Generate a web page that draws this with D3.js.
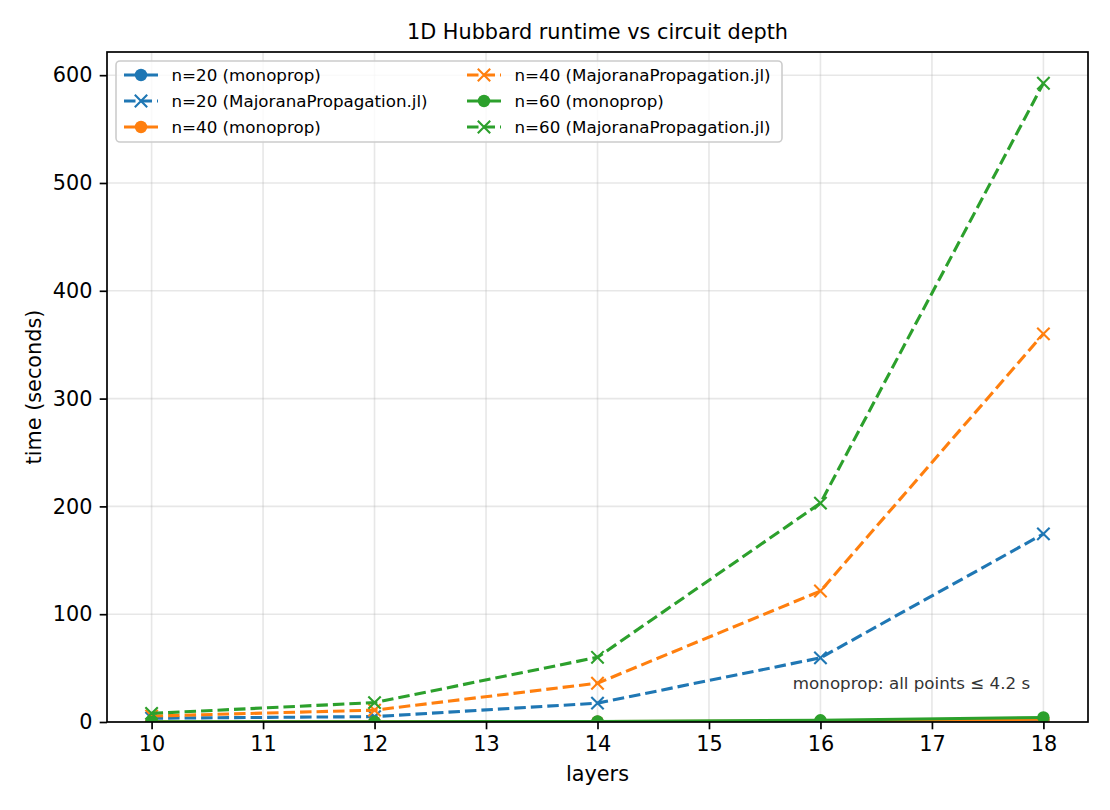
<!DOCTYPE html>
<html>
<head>
<meta charset="utf-8">
<script src="https://cdn.jsdelivr.net/npm/d3@7/dist/d3.min.js"></script>
<style>
  body { margin: 0; background: #fff; }
  svg { display: block; font-family: "DejaVu Sans", sans-serif; }
</style>
</head>
<body>
<svg id="chart" width="1110" height="810"></svg>
<script>
// ---- data ----
const layers = [10, 12, 14, 16, 18];
const monoN20 = [0.05, 0.1, 0.2, 0.5, 1.2];
const majN20 = [3.5, 5, 17.5, 59.5, 174.5];
const monoN40 = [0.08, 0.15, 0.35, 0.9, 2.5];
const majN40 = [5.5, 11, 36, 121.5, 360];
const monoN60 = [0.1, 0.2, 0.5, 1.6, 4.2];
const majN60 = [8, 18, 60, 203, 592.5];
const xTicks = [10, 11, 12, 13, 14, 15, 16, 17, 18];
const yTicks = [0, 100, 200, 300, 400, 500, 600];
const seriesNames = [
  "n=20 (monoprop)", "n=20 (MajoranaPropagation.jl)",
  "n=40 (monoprop)", "n=40 (MajoranaPropagation.jl)",
  "n=60 (monoprop)", "n=60 (MajoranaPropagation.jl)"
];
const seriesValues = [monoN20, majN20, monoN40, majN40, monoN60, majN60];
const seriesColors = ["#1f77b4", "#1f77b4", "#ff7f0e", "#ff7f0e", "#2ca02c", "#2ca02c"];
const seriesKind = ["mono", "maj", "mono", "maj", "mono", "maj"];
const titleText = "1D Hubbard runtime vs circuit depth";
const xLabel = "layers";
const yLabel = "time (seconds)";
const noteText = "monoprop: all points \u2264 4.2 s";

// ---- layout ----
const svg = d3.select("#chart");
const L = 107, R = 1088, T = 52, B = 722;
const x = d3.scaleLinear().domain([9.6, 18.4]).range([L, R]);
const y = d3.scaleLinear().domain([0, 621.5]).range([B, T]);

// grid
const grid = svg.append("g");
grid.selectAll(".gx").data(xTicks).enter().append("line")
  .attr("x1", d => x(d)).attr("x2", d => x(d)).attr("y1", T).attr("y2", B)
  .attr("stroke", "#b0b0b0").attr("stroke-opacity", 0.3).attr("stroke-width", 1.6);
grid.selectAll(".gy").data(yTicks).enter().append("line")
  .attr("y1", d => y(d)).attr("y2", d => y(d)).attr("x1", L).attr("x2", R)
  .attr("stroke", "#b0b0b0").attr("stroke-opacity", 0.3).attr("stroke-width", 1.6);

// axes
const xAxis = d3.axisBottom(x).tickValues(xTicks).tickSize(7.3).tickPadding(7.3).tickFormat(d3.format("d"));
const yAxis = d3.axisLeft(y).tickValues(yTicks).tickSize(7.3).tickPadding(7.3).tickFormat(d3.format("d"));
const gx = svg.append("g").attr("transform", `translate(0,${B})`).call(xAxis);
const gy = svg.append("g").attr("transform", `translate(${L},0)`).call(yAxis);
[gx, gy].forEach(g => {
  g.select(".domain").remove();
  g.selectAll(".tick line").attr("stroke", "#000").attr("stroke-width", 1.7);
  g.selectAll(".tick text").attr("fill", "#000").style("font-size", "20.8px").style("font-family", "DejaVu Sans");
});

// clip
svg.append("clipPath").attr("id", "clip").append("rect")
  .attr("x", L).attr("y", T).attr("width", R - L).attr("height", B - T);

const plot = svg.append("g").attr("clip-path", "url(#clip)");
const line = d3.line().x((d, i) => x(layers[i])).y(d => y(d));

function drawX(g, cx, cy, color, s) {
  g.append("path")
    .attr("d", `M${cx - s},${cy - s}L${cx + s},${cy + s}M${cx - s},${cy + s}L${cx + s},${cy - s}`)
    .attr("stroke", color).attr("stroke-width", 2.1).attr("fill", "none");
}

seriesValues.forEach((vals, si) => {
  const color = seriesColors[si];
  const g = plot.append("g");
  g.append("path").datum(vals).attr("d", line)
    .attr("fill", "none").attr("stroke", color).attr("stroke-width", 3.1)
    .attr("stroke-dasharray", seriesKind[si] === "maj" ? "11.5,5" : null);
  vals.forEach((v, i) => {
    if (seriesKind[si] === "mono") {
      g.append("circle").attr("cx", x(layers[i])).attr("cy", y(v)).attr("r", 6.2).attr("fill", color);
    } else {
      drawX(g, x(layers[i]), y(v), color, 6.2);
    }
  });
});

// spines
svg.append("rect").attr("x", L).attr("y", T).attr("width", R - L).attr("height", B - T)
  .attr("fill", "none").attr("stroke", "#000").attr("stroke-width", 1.7);

// annotation
svg.append("text").attr("x", L + 0.941 * (R - L)).attr("y", 689)
  .attr("text-anchor", "end").style("font-size", "16.7px").attr("fill", "#333")
  .text(noteText);

// titles
svg.append("text").attr("x", (L + R) / 2).attr("y", 39).attr("text-anchor", "middle")
  .style("font-size", "20.8px").attr("fill", "#000").text(titleText);
svg.append("text").attr("x", (L + R) / 2).attr("y", 781).attr("text-anchor", "middle")
  .style("font-size", "20.8px").attr("fill", "#000").text(xLabel);
svg.append("text").attr("transform", `translate(41,${(T + B) / 2}) rotate(-90)`).attr("text-anchor", "middle")
  .style("font-size", "20.8px").attr("fill", "#000").text(yLabel);

// legend
const lg = svg.append("g");
lg.append("rect").attr("x", 116).attr("y", 61).attr("width", 666).attr("height", 81)
  .attr("rx", 4).attr("fill", "#fff").attr("fill-opacity", 0.8)
  .attr("stroke", "#cccccc").attr("stroke-width", 1.6);
const colX = [124, 467];
const rowY = [75, 101, 127];
seriesNames.forEach((name, si) => {
  const col = Math.floor(si / 3), row = si % 3;
  const hx = colX[col], hy = rowY[row], hl = 34;
  const color = seriesColors[si];
  lg.append("line").attr("x1", hx).attr("x2", hx + hl).attr("y1", hy).attr("y2", hy)
    .attr("stroke", color).attr("stroke-width", 3.1)
    .attr("stroke-dasharray", seriesKind[si] === "maj" ? "11.5,5" : null);
  if (seriesKind[si] === "mono") {
    lg.append("circle").attr("cx", hx + hl / 2).attr("cy", hy).attr("r", 6.2).attr("fill", color);
  } else {
    drawX(lg, hx + hl / 2, hy, color, 6.2);
  }
  lg.append("text").attr("x", hx + hl + 13.5).attr("y", hy + 6)
    .style("font-size", "16.7px").attr("fill", "#000").text(name);
});
</script>
</body>
</html>
